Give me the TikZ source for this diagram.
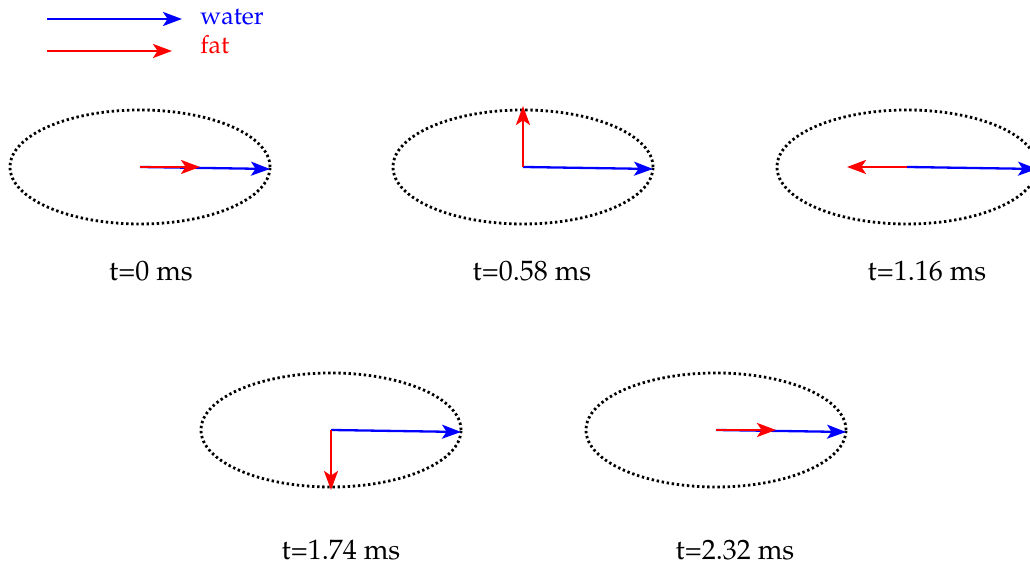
\documentclass[tikz,border=0pt]{standalone}
\usepackage[T1]{fontenc}
\usepackage{mathpazo}
\usepackage{tikz}
\usetikzlibrary{arrows.meta,positioning}

\begin{document}
\begin{tikzpicture}[x=0.5pt,y=0.5pt,font=\fontsize{14}{17}\selectfont]
  \tikzset{
    spin/.style={-{Stealth[length=9.5pt,width=7pt,inset=2.3pt]},line width=1.15pt},
    water/.style={spin,blue},
    fat/.style={spin,red},
    orbit/.style={line width=1.4pt,dash pattern=on 1.2pt off 1.35pt},
    legend/.style={anchor=west,inner sep=0pt,font=\fontsize{12.5}{15}\selectfont},
  }
  \useasboundingbox (0,0) rectangle (1030,565);
  % legend
  \coordinate (lw) at (47,546);
  \coordinate (lf) at (47,514);
  \node[legend,text=blue] (tw) at (200,548) {water};
  \node[legend,text=red] (tf) at (200,520) {fat};
  \draw[water] (lw) -- ++(135,0);
  \draw[fat] (lf) -- ++(125,0);
  % one panel per echo time
  \foreach \n/\cx/\cy/\fx/\fy/\lx/\ly/\lab in {1/140/398/60/0/151/294/{t=0 ms},
      2/523/398/0/61/532/294/{t=0.58 ms},
      3/907/398/-60/0/927/294/{t=1.16 ms},
      4/331/135/0/-60/341/15/{t=1.74 ms},
      5/716/135/60/0/735/15/{t=2.32 ms}}{
     \coordinate (c\n) at (\cx,\cy);
     \draw[orbit] (c\n) ellipse (130 and 57);
     \draw[water] (c\n) -- ++(130,-2);
     \draw[fat] (c\n) -- ++(\fx,\fy);
     \node (t\n) at (\lx,\ly) {\lab};
  }
\end{tikzpicture}
\end{document}
